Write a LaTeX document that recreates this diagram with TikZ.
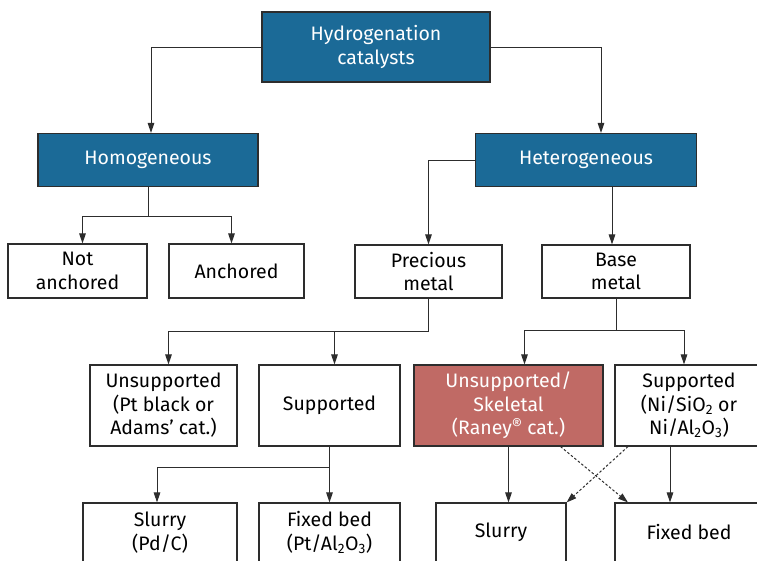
\documentclass[tikz,border=0pt]{standalone}
\usepackage{fontspec}
\setmainfont{Fira Sans}
\usetikzlibrary{arrows.meta,positioning,calc}
\definecolor{catblue}{RGB}{27,106,151}
\definecolor{raneyred}{RGB}{192,106,101}
\definecolor{edgegray}{RGB}{45,45,45}
\newcommand{\regmark}{\raisebox{0.4ex}{\fontsize{16}{16}\selectfont\textregistered}}

\begin{document}
\begin{tikzpicture}[x=1pt,y=-1pt,
  box/.style={draw=edgegray,line width=1.1pt,align=center,inner sep=0pt,font=\fontsize{19.5}{23.5}\selectfont},
  bluebox/.style={box,fill=catblue,text=white},
  redbox/.style={box,fill=raneyred,text=white},
  link/.style={draw=edgegray,line width=1pt,-{Triangle[length=10pt,width=6.5pt]}},
  dotlink/.style={link,dash pattern=on 2.5pt off 2pt}]
\useasboundingbox (0,0) rectangle (757,560);
% top levels
\node[bluebox,minimum width=228pt,minimum height=70pt] (top) at (376,47) {Hydrogenation\\catalysts};
\node[bluebox,minimum width=220pt,minimum height=53pt] (homo) at (148,160) {Homogeneous};
\node[bluebox,minimum width=221pt,minimum height=53pt] (hetero) at (586,160) {Heterogeneous};
\node[box,minimum width=139pt,minimum height=54pt] (notanch) at (77.5,271) {Not\\anchored};
\node[box,minimum width=135pt,minimum height=54pt] (anch) at (236.5,271) {Anchored};
\node[box,minimum width=147pt,minimum height=53pt] (prec) at (428.5,271.5) {Precious\\metal};
\node[box,minimum width=148pt,minimum height=53pt] (base) at (616,271.5) {Base\\metal};
% catalyst forms
\node[box,minimum width=147pt,minimum height=81pt] (unsp) at (163.5,405.5) {Unsupported\\(Pt black or\\Adams’ cat.)};
\node[box,minimum width=141pt,minimum height=81pt] (sup) at (329.5,405.5) {Supported};
\node[redbox,minimum width=189pt,minimum height=81pt] (skel) at (508.5,405.5) {Unsupported/\\Skeletal\\(Raney\regmark{} cat.)};
\node[box,minimum width=148pt,minimum height=81pt] (nisup) at (689,405.5) {Supported\\(Ni/SiO\textsubscript{2} or\\Ni/Al\textsubscript{2}O\textsubscript{3})};
% reactor types
\node[box,minimum width=154pt,minimum height=59pt] (slpd) at (160,532.5) {Slurry\\(Pd/C)};
\node[box,minimum width=141pt,minimum height=59pt] (fbpt) at (329.5,532.5) {Fixed bed\\(Pt/Al\textsubscript{2}O\textsubscript{3})};
\node[box,minimum width=130pt,minimum height=59pt] (slni) at (501,532.5) {Slurry};
\node[box,minimum width=148pt,minimum height=59pt] (fbni) at (689,532.5) {Fixed bed};
% junctions
\coordinate (hj) at ($(homo.south)+(0,29)$);
\coordinate (pj) at ($(prec.south)+(0,33)$);
\coordinate (bj) at ($(base.south)+(0,32)$);
\coordinate (sj) at ($(sup.south)+(0,21)$);
% connectors
\draw[link] (top.west) -| ([xshift=3pt]homo.north);
\draw[link] (top.east) -| ([xshift=15pt]hetero.north);
\draw[link] (hetero.west) -| (prec.north);
\draw[link] ([xshift=-4pt]base.north |- hetero.south) -- ([xshift=-4pt]base.north);
\draw[link] (homo.south) -- (hj) -| ([xshift=5pt]notanch.north);
\draw[link] (hj) -| ([xshift=-5pt]anch.north);
\draw[link] (prec.south) -- (pj) -| ([xshift=5pt]unsp.north);
\draw[link] (pj) -| ([xshift=5pt]sup.north);
\draw[link] (base.south) -- (bj) -| ([xshift=16pt]skel.north);
\draw[link] (bj) -| ([xshift=-5pt]nisup.north);
\draw[link] (sup.south) -- (sj) -| ([xshift=-3pt]slpd.north);
\draw[link] (sj) -- (fbpt.north);
\draw[link] (skel.south) -- (skel.south |- slni.north);
\draw[link] ([xshift=-19pt]nisup.south) -- ([xshift=-19pt]nisup.south |- fbni.north);
\draw[dotlink] ([xshift=52pt]skel.south) -- ([xshift=-61pt]fbni.north);
\draw[dotlink] ([xshift=-61pt]nisup.south) -- (slni.north east);
\end{tikzpicture}
\end{document}
